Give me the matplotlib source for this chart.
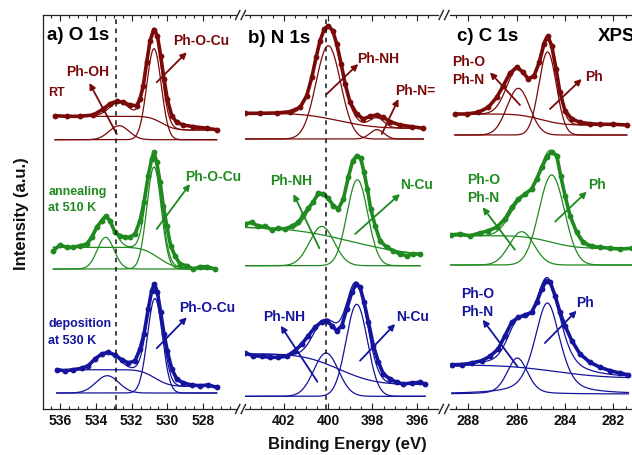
import math
import numpy as np
import matplotlib
matplotlib.use("Agg")
import matplotlib.pyplot as plt
from matplotlib.lines import Line2D
from matplotlib.ticker import MultipleLocator

plt.rcParams['font.family'] = ['Liberation Sans', 'DejaVu Sans']
plt.rcParams['font.weight'] = 'bold'

MAROON = '#7a0a0a'
GREEN = '#1f8a1f'
BLUE = '#14149c'

# ---------------- measured spectra (binding energy eV, intensity a.u.) ----------------
o1s_rt_be = [536.28, 535.63, 534.88, 534.14, 533.58, 533.21, 532.83, 532.46, 532.09, 531.72, 531.53,
             531.35, 531.16, 530.97, 530.75, 530.56, 530.38, 530.19, 530.01, 529.76, 529.48, 529.11,
             528.55, 527.80, 527.25]
o1s_rt_int = [293.3, 292.7, 292.7, 294.0, 300.0, 305.3, 307.7, 306.7, 304.0, 303.3, 310.0,
              323.3, 346.7, 368.3, 379.3, 373.3, 353.3, 330.0, 310.0, 293.3, 286.7, 284.0,
              282.3, 280.7, 279.3]

o1s_an_be = [536.37, 536.00, 535.63, 535.26, 534.88, 534.51, 534.23, 533.95, 533.67, 533.43, 533.21,
             532.93, 532.65, 532.37, 532.09, 531.81, 531.53, 531.31, 531.07, 530.88, 530.75, 530.60,
             530.41, 530.23, 530.04, 529.82, 529.58, 529.30, 528.92, 528.55, 528.18, 527.80, 527.34]
o1s_an_int = [158.3, 164.0, 161.7, 161.7, 163.3, 165.0, 171.7, 181.7, 188.3, 192.7, 188.3,
              176.7, 173.3, 171.7, 171.7, 175.0, 188.3, 206.7, 233.3, 250.0, 256.7, 246.7,
              226.7, 203.3, 183.3, 163.3, 153.3, 145.0, 143.3, 140.0, 142.3, 142.3, 140.0]

o1s_dep_be = [536.18, 535.72, 535.26, 534.79, 534.42, 534.05, 533.67, 533.30, 532.93, 532.55, 532.18,
              531.81, 531.53, 531.31, 531.07, 530.88, 530.73, 530.56, 530.38, 530.19, 530.01, 529.76,
              529.48, 529.11, 528.64, 528.18, 527.72, 527.25]
o1s_dep_int = [39.3, 38.3, 39.3, 40.7, 43.3, 50.0, 55.0, 56.7, 54.0, 49.3, 46.0,
               48.3, 60.0, 75.0, 100.0, 118.3, 125.0, 116.7, 96.7, 75.0, 58.3, 40.0,
               30.0, 26.0, 24.0, 23.3, 24.0, 21.7]

n1s_rt_be = [403.74, 403.06, 402.31, 401.71, 401.26, 400.96, 400.73, 400.54, 400.36, 400.17, 399.99,
             399.79, 399.61, 399.41, 399.23, 399.01, 398.71, 398.41, 398.11, 397.81, 397.51, 397.21,
             396.76, 396.23, 395.71]
n1s_rt_int = [295.7, 295.7, 296.0, 297.3, 301.7, 313.3, 331.7, 351.7, 368.3, 380.0, 383.3,
              378.3, 365.0, 345.0, 325.0, 306.7, 295.0, 290.0, 292.7, 294.0, 291.7, 287.3,
              284.0, 282.3, 280.7]

n1s_an_be = [403.74, 403.44, 403.14, 402.84, 402.54, 402.24, 401.94, 401.64, 401.34, 401.11, 400.89,
             400.66, 400.44, 400.21, 399.99, 399.76, 399.54, 399.31, 399.09, 398.89, 398.71, 398.53,
             398.38, 398.23, 398.08, 397.88, 397.66, 397.36, 397.06, 396.76, 396.46, 396.16, 395.86]
n1s_an_int = [185.0, 186.7, 182.7, 182.7, 179.3, 180.7, 180.0, 182.7, 186.7, 194.0, 200.7,
              207.3, 216.0, 215.0, 210.7, 203.3, 200.0, 210.0, 231.7, 248.3, 253.3, 250.7,
              236.7, 220.0, 200.0, 183.3, 168.3, 161.7, 158.3, 155.0, 153.3, 155.0, 155.0]

n1s_dep_be = [403.74, 403.36, 402.99, 402.61, 402.24, 401.86, 401.49, 401.18, 400.89, 400.59, 400.28,
              400.06, 399.83, 399.61, 399.38, 399.16, 398.93, 398.74, 398.56, 398.38, 398.18, 397.96,
              397.73, 397.51, 397.21, 396.91, 396.61, 396.23, 395.86, 395.63]
n1s_dep_int = [56.0, 53.3, 52.7, 51.7, 51.7, 52.7, 58.3, 65.0, 73.3, 81.7, 87.3,
               88.3, 83.3, 78.3, 83.3, 100.0, 116.7, 125.0, 121.7, 106.7, 86.7, 63.3,
               46.7, 35.0, 30.0, 26.7, 25.0, 26.0, 26.7, 25.0]

c1s_rt_be = [288.55, 288.06, 287.58, 287.17, 286.82, 286.55, 286.27, 286.00, 285.75, 285.52, 285.28,
             285.06, 284.87, 284.71, 284.55, 284.37, 284.21, 284.00, 283.72, 283.38, 282.97, 282.55,
             282.00, 281.45]
c1s_rt_int = [295.0, 295.0, 296.7, 301.7, 311.7, 323.3, 336.0, 341.7, 337.3, 330.0, 333.3,
              346.7, 365.0, 372.7, 363.3, 340.0, 316.7, 298.3, 290.0, 286.7, 285.3, 284.7,
              284.7, 284.0]

c1s_an_be = [288.72, 288.34, 287.93, 287.51, 287.17, 286.82, 286.48, 286.20, 285.93, 285.65, 285.38,
             285.17, 284.96, 284.76, 284.55, 284.34, 284.18, 284.00, 283.79, 283.52, 283.24, 282.90,
             282.55, 282.14, 281.73, 281.24]
c1s_an_int = [174.0, 175.0, 173.3, 176.0, 178.3, 181.7, 190.0, 201.7, 210.0, 215.0, 220.0,
              230.0, 241.7, 251.7, 257.3, 253.3, 233.3, 213.3, 193.3, 176.7, 166.7, 162.7,
              161.7, 160.7, 160.0, 160.7]

c1s_dep_be = [288.68, 288.27, 287.86, 287.44, 287.10, 286.76, 286.48, 286.20, 285.93, 285.65, 285.38,
              285.17, 284.96, 284.78, 284.62, 284.41, 284.21, 284.00, 283.72, 283.38, 282.97, 282.55,
              282.14, 281.73, 281.38]
c1s_dep_int = [44.0, 44.0, 46.0, 48.3, 52.7, 60.0, 73.3, 86.7, 91.7, 94.0, 96.7,
               106.7, 120.0, 128.3, 127.3, 113.3, 96.7, 83.3, 68.3, 55.0, 46.7, 41.7,
               38.3, 36.0, 34.0]

# ---------------- fit parameters ----------------
# peaks: (centre eV, height, FWHM eV, Lorentzian fraction)
# baseline level of components; background: (high-BE level, low-BE level, step centre, step width)
o1s_rt_peaks = [(532.70, 14.0, 1.30, 0.0), (530.75, 91.0, 0.95, 0.0)]
o1s_rt_base, o1s_rt_bg = 269.3, (292.7, 279.0, 530.30, 0.80)
o1s_an_peaks = [(533.45, 31.7, 1.10, 0.0), (530.75, 102.0, 0.95, 0.0)]
o1s_an_base, o1s_an_bg = 140.0, (161.7, 140.7, 530.50, 1.00)
o1s_dep_peaks = [(533.36, 17.3, 1.50, 0.0), (530.70, 94.5, 0.98, 0.0)]
o1s_dep_base, o1s_dep_bg = 16.0, (39.3, 22.7, 530.70, 0.90)

n1s_rt_peaks = [(399.99, 93.3, 1.30, 0.0), (397.80, 9.3, 0.75, 0.0)]
n1s_rt_base, n1s_rt_bg = 270.0, (295.7, 280.7, 399.50, 1.80)
n1s_an_peaks = [(400.28, 39.3, 1.30, 0.0), (398.68, 86.0, 1.10, 0.0)]
n1s_an_base, n1s_an_bg = 143.3, (182.0, 153.0, 398.95, 3.07)
n1s_dep_peaks = [(400.09, 43.3, 1.30, 0.0), (398.71, 92.0, 1.13, 0.0)]
n1s_dep_base, n1s_dep_bg = 12.7, (55.0, 24.5, 399.50, 1.80)

c1s_rt_peaks = [(285.93, 46.7, 1.10, 0.0), (284.72, 83.0, 0.85, 0.0)]
c1s_rt_base, c1s_rt_bg = 274.0, (295.0, 284.0, 285.00, 1.00)
c1s_an_peaks = [(285.79, 33.3, 1.20, 0.0), (284.55, 90.0, 1.24, 0.0)]
c1s_an_base, c1s_an_bg = 144.0, (173.3, 160.7, 284.60, 1.20)
c1s_dep_peaks = [(285.97, 36.0, 1.00, 0.3), (284.73, 91.0, 1.24, 0.5)]
c1s_dep_base, c1s_dep_bg = 15.0, (44.0, 31.0, 284.40, 2.30)

# ---------------- figure ----------------
W, H = 632, 456
fig = plt.figure(figsize=(W / 100, H / 100), dpi=100)


def axpos(left, right):
    return [left / W, 46 / H, (right - left) / W, 394 / H]


axa = fig.add_axes(axpos(43, 236))
axb = fig.add_axes(axpos(245, 438))
axc = fig.add_axes(axpos(450, 650))
axa.set_xlim(536.95, 526.17)
axb.set_xlim(403.74, 395.05)
axc.set_xlim(288.75, 280.49)

SPINE = '#222222'
for ax in (axa, axb, axc):
    ax.set_ylim(0, 394)
    ax.set_yticks([])
    ax.spines['right'].set_visible(False)
    if ax is not axa:
        ax.spines['left'].set_visible(False)
    for s in ('top', 'bottom', 'left'):
        ax.spines[s].set_color(SPINE)
        ax.spines[s].set_linewidth(0.9)
    ax.xaxis.set_major_locator(MultipleLocator(2))
    ax.xaxis.set_minor_locator(MultipleLocator(0.5))
    ax.tick_params(axis='x', which='both', direction='in', top=True, bottom=True,
                   colors=SPINE, width=0.8)
    ax.tick_params(axis='x', which='major', length=4, labelsize=10, pad=3,
                   labelcolor='#111111')
    ax.tick_params(axis='x', which='minor', length=2)
    ax.patch.set_alpha(0)

verf = np.vectorize(math.erf)


def pvoigt(x, c, h, fw, eta):
    u = (x - c) / fw
    return h * ((1 - eta) * np.exp(-4 * np.log(2) * u ** 2) + eta / (1 + 4 * u ** 2))


def draw(ax, color, be, inten, peaks, base, bg):
    be = np.asarray(be)
    x = np.linspace(be.max(), be.min(), 500)
    high, low, bc, bw = bg
    bgc = low + (high - low) * 0.5 * (1 + verf((x - bc) / bw))
    comps = [pvoigt(x, *p) for p in peaks]
    ax.plot(be, inten, '-', color=color, lw=2.6, solid_capstyle='round', zorder=2)
    ax.plot(be, inten, 'o', color=color, ms=4.2, mew=0, zorder=2)
    ax.plot(x, bgc, color=color, lw=0.9, zorder=3)
    for comp in comps:
        ax.plot(x, base + comp, color=color, lw=0.9, zorder=3)
    ax.plot(x, bgc + np.sum(comps, axis=0), color=color, lw=0.9, zorder=3)


draw(axa, MAROON, o1s_rt_be, o1s_rt_int, o1s_rt_peaks, o1s_rt_base, o1s_rt_bg)
draw(axa, GREEN, o1s_an_be, o1s_an_int, o1s_an_peaks, o1s_an_base, o1s_an_bg)
draw(axa, BLUE, o1s_dep_be, o1s_dep_int, o1s_dep_peaks, o1s_dep_base, o1s_dep_bg)
draw(axb, MAROON, n1s_rt_be, n1s_rt_int, n1s_rt_peaks, n1s_rt_base, n1s_rt_bg)
draw(axb, GREEN, n1s_an_be, n1s_an_int, n1s_an_peaks, n1s_an_base, n1s_an_bg)
draw(axb, BLUE, n1s_dep_be, n1s_dep_int, n1s_dep_peaks, n1s_dep_base, n1s_dep_bg)
draw(axc, MAROON, c1s_rt_be, c1s_rt_int, c1s_rt_peaks, c1s_rt_base, c1s_rt_bg)
draw(axc, GREEN, c1s_an_be, c1s_an_int, c1s_an_peaks, c1s_an_base, c1s_an_bg)
draw(axc, BLUE, c1s_dep_be, c1s_dep_int, c1s_dep_peaks, c1s_dep_base, c1s_dep_bg)

axa.axvline(532.9, color='#111111', lw=1.1, ls=(0, (3, 3)), zorder=4)
axb.axvline(400.1, color='#111111', lw=1.1, ls=(0, (3, 3)), zorder=4)


def label(ax, x, y, s, color, size=10, ha='center'):
    ax.text(x, y, s, color=color, fontsize=size, ha=ha, va='center', fontweight='bold')


def arrow(ax, head, tail, color):
    ax.annotate('', xy=head, xytext=tail, annotation_clip=False,
                arrowprops=dict(arrowstyle='-|>', color=color, lw=1.3,
                                mutation_scale=9, shrinkA=0, shrinkB=0))


# panel titles
label(axa, 536.74, 375.0, 'a) O 1s', 'black', 13.5, 'left')
label(axb, 403.59, 371.7, 'b) N 1s', 'black', 13.5, 'left')
label(axc, 288.48, 373.3, 'c) C 1s', 'black', 13.5, 'left')
label(axc, 282.64, 373.3, 'XPS', 'black', 13.5, 'left')

# O 1s annotations
label(axa, 536.67, 317.0, 'RT', MAROON, 9, 'left')
label(axa, 534.46, 338.3, 'Ph-OH', MAROON)
arrow(axa, (534.36, 326.0), (532.83, 275.0), MAROON)
label(axa, 528.12, 369.3, 'Ph-O-Cu', MAROON)
arrow(axa, (528.92, 356.7), (530.60, 326.7), MAROON)

label(axa, 536.65, 217.7, 'annealing', GREEN, 9, 'left')
label(axa, 536.65, 201.7, 'at 510 K', GREEN, 9, 'left')
label(axa, 527.42, 233.3, 'Ph-O-Cu', GREEN)
arrow(axa, (528.74, 225.0), (530.60, 180.0), GREEN)

label(axa, 536.65, 85.7, 'deposition', BLUE, 9, 'left')
label(axa, 536.65, 69.0, 'at 530 K', BLUE, 9, 'left')
label(axa, 527.80, 101.7, 'Ph-O-Cu', BLUE)
arrow(axa, (528.92, 91.7), (530.60, 60.7), BLUE)

# N 1s annotations
label(axb, 397.73, 350.7, 'Ph-NH', MAROON)
arrow(axb, (398.64, 345.0), (400.06, 315.0), MAROON)
label(axb, 396.08, 319.3, 'Ph-N=', MAROON)
arrow(axb, (396.83, 310.0), (397.58, 275.0), MAROON)

label(axb, 401.65, 229.3, 'Ph-NH', GREEN)
arrow(axb, (401.56, 215.0), (400.39, 160.7), GREEN)
label(axb, 396.00, 225.0, 'N-Cu', GREEN)
arrow(axb, (396.76, 215.0), (398.78, 175.0), GREEN)

label(axb, 401.97, 93.3, 'Ph-NH', BLUE)
arrow(axb, (402.13, 83.3), (400.48, 27.3), BLUE)
label(axb, 396.19, 93.3, 'N-Cu', BLUE)
arrow(axb, (396.98, 85.0), (398.56, 48.3), BLUE)

# C 1s annotations
label(axc, 288.68, 348.3, 'Ph-O', MAROON, 10, 'left')
label(axc, 288.68, 330.0, 'Ph-N', MAROON, 10, 'left')
arrow(axc, (287.10, 336.7), (285.86, 304.0), MAROON)
label(axc, 282.80, 332.7, 'Ph', MAROON)
arrow(axc, (283.31, 330.0), (284.62, 300.0), MAROON)

label(axc, 288.06, 230.0, 'Ph-O', GREEN, 10, 'left')
label(axc, 288.06, 211.7, 'Ph-N', GREEN, 10, 'left')
arrow(axc, (287.40, 201.7), (286.07, 159.3), GREEN)
label(axc, 282.66, 225.0, 'Ph', GREEN)
arrow(axc, (283.10, 217.3), (284.41, 187.3), GREEN)

label(axc, 288.27, 116.0, 'Ph-O', BLUE, 10, 'left')
label(axc, 288.27, 97.7, 'Ph-N', BLUE, 10, 'left')
arrow(axc, (287.40, 89.3), (285.97, 42.7), BLUE)
label(axc, 283.17, 106.7, 'Ph', BLUE)
arrow(axc, (283.52, 98.3), (284.83, 66.0), BLUE)

# axis titles
fig.text(22 / W, 1 - 214 / H, 'Intensity (a.u.)', rotation=90, ha='center', va='center',
         fontsize=12, fontweight='bold', color='#111111')
fig.text(347.5 / W, 1 - 445 / H, 'Binding Energy (eV)', ha='center', va='center',
         fontsize=12, fontweight='bold', color='#111111')

# axis-break marks
for xb in (240.5, 444.0):
    for yb in (16, 410):
        for dx in (-2.8, 2.8):
            x0, x1 = xb + dx - 2.2, xb + dx + 2.2
            fig.add_artist(Line2D([x0 / W, x1 / W], [1 - (yb + 4.5) / H, 1 - (yb - 4.5) / H],
                                  transform=fig.transFigure, color=SPINE, lw=1.0))

fig.savefig('out.png', dpi=100)
